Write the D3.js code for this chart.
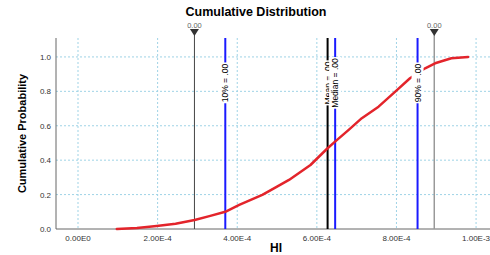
<!DOCTYPE html>
<html>
<head>
<meta charset="utf-8">
<script src="https://cdn.jsdelivr.net/npm/d3@7"></script>
<style>
  body { margin: 0; background: #fff; }
  svg { display: block; font-family: "Liberation Sans", Arial, sans-serif; }
  .grid line { stroke: #9fd3e6; stroke-dasharray: 2,2; stroke-width: 1; }
  .tick-label { font-size: 8px; fill: #333; }
</style>
</head>
<body>
<div id="plot"></div>
<script>
// cumulative curve (HI value, cumulative probability)
const cdfX = [0.975e-4, 1.48e-4, 1.975e-4, 2.45e-4, 2.93e-4, 3.3e-4, 3.7e-4, 4.05e-4, 4.63e-4, 5.0e-4,
              5.3e-4, 5.84e-4, 6.25e-4, 6.45e-4, 6.8e-4, 7.13e-4, 7.55e-4, 7.97e-4, 8.34e-4, 8.72e-4,
              8.97e-4, 9.38e-4, 9.8e-4];
const cdfP = [0.0, 0.006, 0.017, 0.03, 0.052, 0.075, 0.10, 0.14, 0.198, 0.246,
              0.285, 0.372, 0.465, 0.506, 0.576, 0.644, 0.711, 0.798, 0.876, 0.934,
              0.963, 0.992, 1.0];

// reference lines (percentiles, mean, median)
const refNames = ["10%", "Mean", "Median", "90%"];
const refValues = [3.7e-4, 6.27e-4, 6.46e-4, 8.53e-4];
const refLabels = ["10% = .00", "Mean = .00", "Median = .00", "90% = .00"];

// marker lines with triangles on top
const markerValues = [2.925e-4, 8.95e-4];
const markerLabels = ["0.00", "0.00"];

// ticks
const xTicks = [0, 2e-4, 4e-4, 6e-4, 8e-4, 1e-3];
const xTickLabels = ["0.00E0", "2.00E-4", "4.00E-4", "6.00E-4", "8.00E-4", "1.00E-3"];
const yTicks = [0, 0.2, 0.4, 0.6, 0.8, 1.0];
const yTickLabels = ["0.0", "0.2", "0.4", "0.6", "0.8", "1.0"];

const width = 490, height = 255;
const margin = { top: 38, right: 0, bottom: 26, left: 56 };

const x = d3.scaleLinear()
    .domain([-0.553e-4, 1.035e-3])
    .range([margin.left, width - margin.right]);

const y = d3.scaleLinear()
    .domain([0, 1.11])
    .range([height - margin.bottom, margin.top]);

const svg = d3.select("#plot").append("svg")
    .attr("width", width)
    .attr("height", height);

// gridlines
const grid = svg.append("g").attr("class", "grid");
grid.selectAll(".gx").data(xTicks).join("line")
    .attr("x1", d => x(d)).attr("x2", d => x(d))
    .attr("y1", y.range()[1]).attr("y2", y.range()[0]);
grid.selectAll(".gy").data(yTicks.slice(1)).join("line")
    .attr("x1", x.range()[0]).attr("x2", x.range()[1])
    .attr("y1", d => y(d)).attr("y2", d => y(d));

// axes lines
svg.append("line")
    .attr("x1", x.range()[0]).attr("x2", x.range()[0])
    .attr("y1", y.range()[1]).attr("y2", y.range()[0])
    .attr("stroke", "#666").attr("stroke-width", 1);
svg.append("line")
    .attr("x1", x.range()[0]).attr("x2", x.range()[1])
    .attr("y1", y.range()[0]).attr("y2", y.range()[0])
    .attr("stroke", "#666").attr("stroke-width", 1);

// tick labels
svg.selectAll(".ytl").data(yTicks).join("text")
    .attr("class", "tick-label")
    .attr("x", x.range()[0] - 5)
    .attr("y", d => y(d) + 3)
    .attr("text-anchor", "end")
    .text((d, i) => yTickLabels[i]);
svg.selectAll(".xtl").data(xTicks).join("text")
    .attr("class", "tick-label")
    .attr("x", d => x(d))
    .attr("y", y.range()[0] + 12)
    .attr("text-anchor", "middle")
    .text((d, i) => xTickLabels[i]);

// marker lines with triangles
const markerColors = ["#444", "#999"];
markerValues.forEach((v, i) => {
    svg.append("line")
        .attr("x1", x(v)).attr("x2", x(v))
        .attr("y1", margin.top - 4).attr("y2", y(0))
        .attr("stroke", markerColors[i]).attr("stroke-width", i == 0 ? 1 : 1.5);
    svg.append("path")
        .attr("d", `M${x(v) - 4.5},${margin.top - 9}L${x(v) + 4.5},${margin.top - 9}L${x(v)},${margin.top - 2}Z`)
        .attr("fill", "#333");
    svg.append("text")
        .attr("x", x(v)).attr("y", margin.top - 10)
        .attr("text-anchor", "middle")
        .attr("font-size", "7.5px").attr("fill", "#666")
        .text(markerLabels[i]);
});

// reference lines
const refColors = ["#1a1aff", "#000", "#1a1aff", "#1a1aff"];
refValues.forEach((v, i) => {
    svg.append("line")
        .attr("x1", x(v)).attr("x2", x(v))
        .attr("y1", y.range()[1]).attr("y2", y(0))
        .attr("stroke", refColors[i]).attr("stroke-width", 2);
});

// the cumulative curve
svg.append("path")
    .datum(cdfX.map((d, i) => [d, cdfP[i]]))
    .attr("fill", "none")
    .attr("stroke", "#e3242b")
    .attr("stroke-width", 2.5)
    .attr("stroke-linejoin", "round")
    .attr("stroke-linecap", "round")
    .attr("d", d3.line().x(d => x(d[0])).y(d => y(d[1])));

// reference labels, vertical with white background
const labelY = 83;
refValues.forEach((v, i) => {
    const g = svg.append("g")
        .attr("transform", `translate(${x(v)},${labelY}) rotate(-90)`);
    const t = g.append("text")
        .attr("x", 0).attr("y", 3)
        .attr("text-anchor", "middle")
        .attr("font-size", "8.5px").attr("fill", "#000")
        .text(refLabels[i]);
    const bb = t.node().getBBox();
    g.insert("rect", "text")
        .attr("x", bb.x - 1).attr("y", -6)
        .attr("width", bb.width + 2).attr("height", 12)
        .attr("fill", "#fff");
});

// title and axis labels
svg.append("text")
    .attr("x", 256).attr("y", 16)
    .attr("text-anchor", "middle")
    .attr("font-size", "12.5px").attr("font-weight", "bold")
    .text("Cumulative Distribution");

svg.append("text")
    .attr("transform", `translate(26,${(y.range()[0] + y.range()[1]) / 2}) rotate(-90)`)
    .attr("text-anchor", "middle")
    .attr("font-size", "11px").attr("font-weight", "bold")
    .text("Cumulative Probability");

svg.append("text")
    .attr("x", 276).attr("y", 252)
    .attr("text-anchor", "middle")
    .attr("font-size", "12px").attr("font-weight", "bold")
    .text("HI");
</script>
</body>
</html>
